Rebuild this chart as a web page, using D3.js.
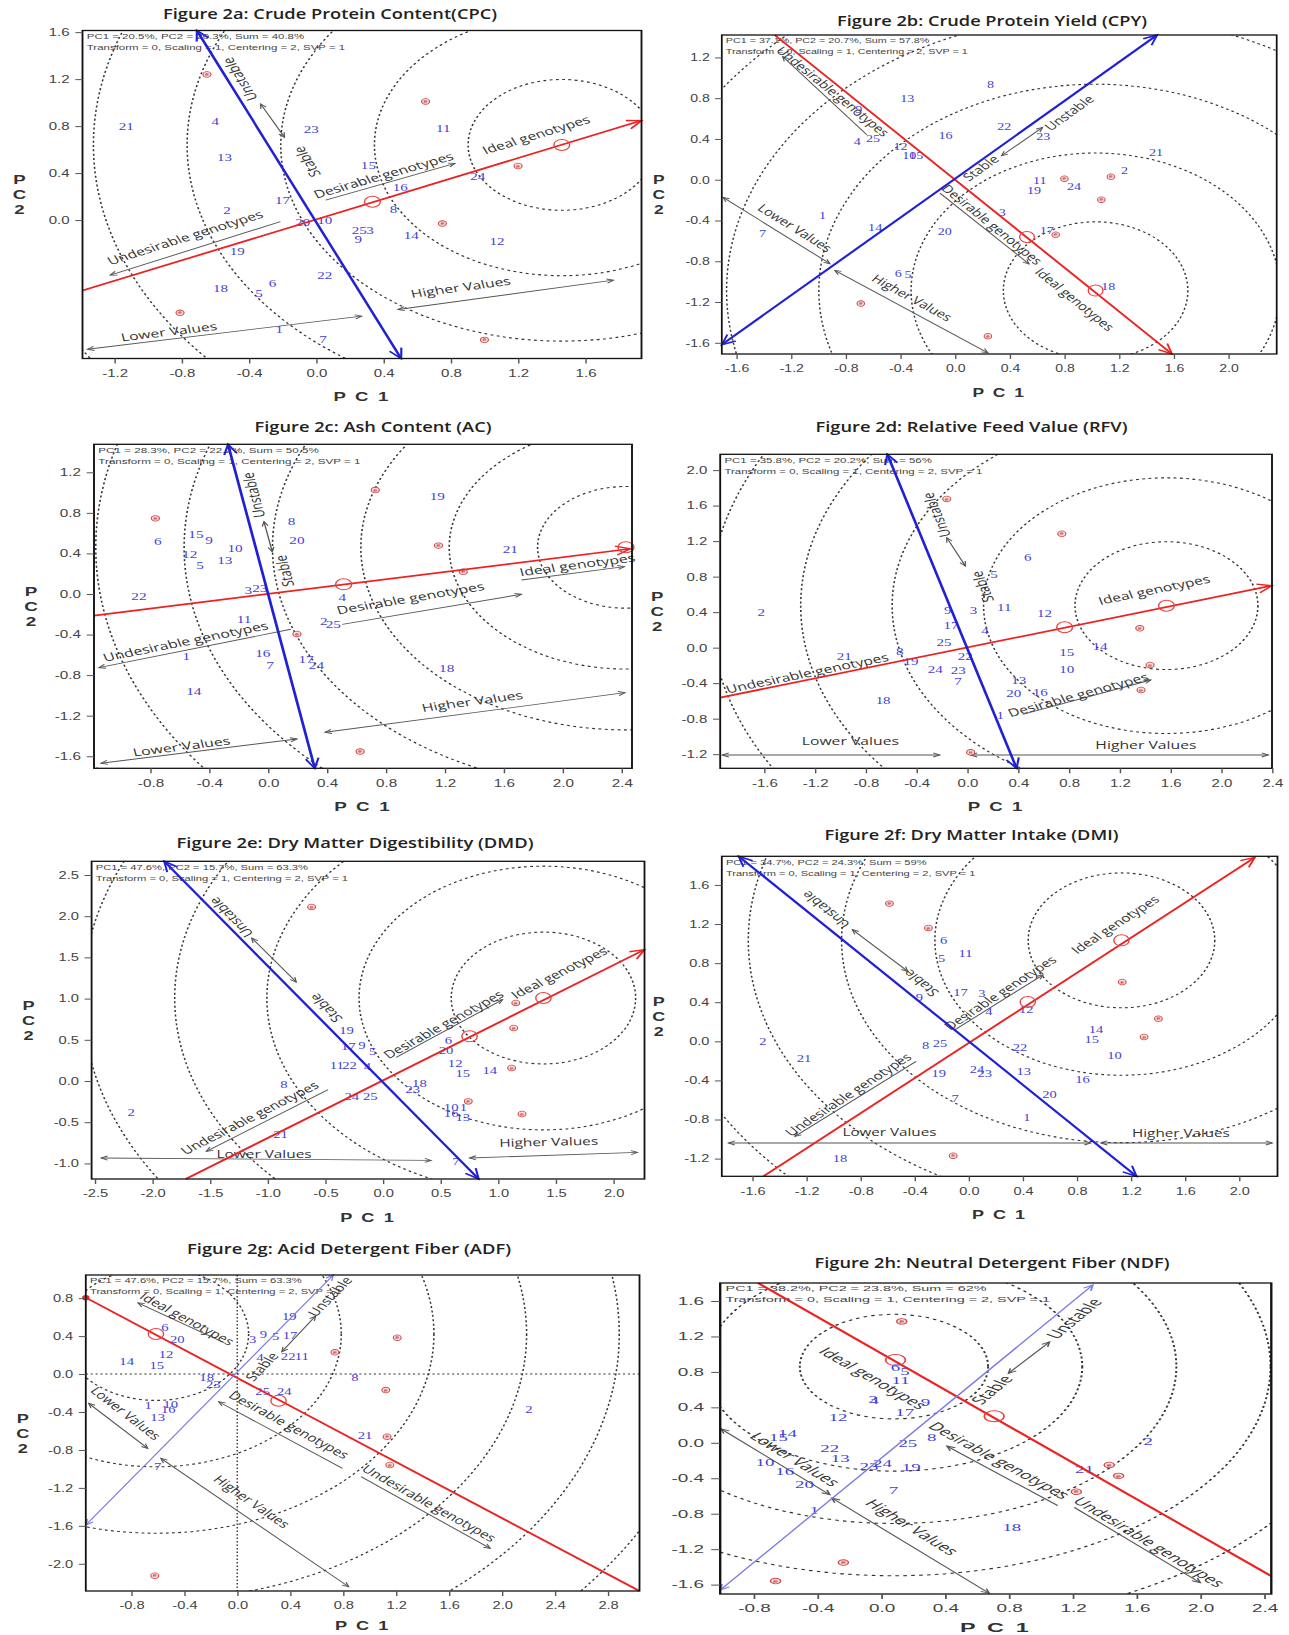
<!DOCTYPE html>
<meta charset="utf-8">
<style>
  body { margin: 0; background: #fff; }
  .title { font-family: "Open Sans", sans-serif; font-weight: 600; font-size: 13.5px; fill: #222; }
  .axlab { font-family: "Liberation Sans", Arial, sans-serif; font-weight: bold; font-size: 13px; fill: #333; }
  .stats { font-family: "Liberation Sans", Arial, sans-serif; font-size: 8px; fill: #444; }
  .geno { font-family: "Liberation Serif", "Times New Roman", serif; font-size: 10.5px; fill: #4242d6; }
  .note { font-family: "Open Sans", sans-serif; font-size: 11px; fill: #333; }
  .env { font-family: "Liberation Sans", Arial, sans-serif; font-size: 5px; fill: #c03030; }
</style>

<script src="https://d3js.org/d3.v7.min.js"></script>

<div id="chart"></div>

<script>
  // ---- panel texts ----
  var titles = [
    "Figure 2a: Crude Protein Content(CPC)",
    "Figure 2b: Crude Protein Yield (CPY)",
    "Figure 2c: Ash Content (AC)",
    "Figure 2d: Relative Feed Value (RFV)",
    "Figure 2e: Dry Matter Digestibility (DMD)",
    "Figure 2f: Dry Matter Intake (DMI)",
    "Figure 2g: Acid Detergent Fiber (ADF)",
    "Figure 2h: Neutral Detergent Fiber (NDF)"
  ];
  var statsText = [
    "PC1 = 20.5%, PC2 = 20.3%, Sum = 40.8%",
    "PC1 = 37.1%, PC2 = 20.7%, Sum = 57.8%",
    "PC1 = 28.3%, PC2 = 22.2%, Sum = 50.5%",
    "PC1 = 35.8%, PC2 = 20.2%, Sum = 56%",
    "PC1 = 47.6%, PC2 = 15.7%, Sum = 63.3%",
    "PC1 = 34.7%, PC2 = 24.3%, Sum = 59%",
    "PC1 = 47.6%, PC2 = 15.7%, Sum = 63.3%",
    "PC1 = 38.2%, PC2 = 23.8%, Sum = 62%"
  ];
  var statsText2 = "Transform = 0, Scaling = 1, Centering = 2, SVP = 1";

  // ---- axis ranges and ticks ----
  var xDomains = [[-1.39, 1.934], [-1.707, 2.353], [-1.182, 2.471], [-1.946, 2.399],
                  [-2.528, 2.27], [-1.826, 2.284], [-1.144, 3.039], [-1.009, 2.445]];
  var yDomains = [[-1.179, 1.614], [-1.71, 1.42], [-1.719, 1.476], [-1.359, 2.178],
                  [-1.189, 2.666], [-1.381, 1.893], [-2.287, 1.044], [-1.706, 1.803]];
  var xTickVals = [
    [-1.2, -0.8, -0.4, 0, 0.4, 0.8, 1.2, 1.6],
    [-1.6, -1.2, -0.8, -0.4, 0, 0.4, 0.8, 1.2, 1.6, 2.0],
    [-0.8, -0.4, 0, 0.4, 0.8, 1.2, 1.6, 2.0, 2.4],
    [-1.6, -1.2, -0.8, -0.4, 0, 0.4, 0.8, 1.2, 1.6, 2.0, 2.4],
    [-2.5, -2.0, -1.5, -1.0, -0.5, 0, 0.5, 1.0, 1.5, 2.0],
    [-1.6, -1.2, -0.8, -0.4, 0, 0.4, 0.8, 1.2, 1.6, 2.0],
    [-0.8, -0.4, 0, 0.4, 0.8, 1.2, 1.6, 2.0, 2.4, 2.8],
    [-0.8, -0.4, 0, 0.4, 0.8, 1.2, 1.6, 2.0, 2.4]
  ];
  var yTickVals = [
    [0, 0.4, 0.8, 1.2, 1.6],
    [-1.6, -1.2, -0.8, -0.4, 0, 0.4, 0.8, 1.2],
    [-1.6, -1.2, -0.8, -0.4, 0, 0.4, 0.8, 1.2],
    [-1.2, -0.8, -0.4, 0, 0.4, 0.8, 1.2, 1.6, 2.0],
    [-1.0, -0.5, 0, 0.5, 1.0, 1.5, 2.0, 2.5],
    [-1.2, -0.8, -0.4, 0, 0.4, 0.8, 1.2, 1.6],
    [-2.0, -1.6, -1.2, -0.8, -0.4, 0, 0.4, 0.8],
    [-1.6, -1.2, -0.8, -0.4, 0, 0.4, 0.8, 1.2, 1.6]
  ];

  // ---- biplot axes: average environment axis (red) and its perpendicular (blue) ----
  var redAxes = [
    [[-1.39, -0.60], [1.934, 0.847]], [[-1.32, 1.42], [1.587, -1.71]],
    [[-1.182, -0.214], [2.46, 0.446]], [[-1.946, -0.563], [2.399, 0.698]],
    [[-1.711, -1.189], [2.27, 1.594]], [[-1.519, -1.381], [2.117, 1.883]],
    [[-1.144, 0.805], [3.039, -2.287]], [[-0.772, 1.803], [2.445, -1.504]]
  ];
  var blueAxes = [
    [[-0.71, 1.614], [0.505, -1.18]], [[1.478, 1.42], [-1.707, -1.618]],
    [[-0.272, 1.476], [0.317, -1.719]], [[-0.63, 2.178], [0.388, -1.359]],
    [[-1.898, 2.666], [0.831, -1.189]], [[-1.701, 1.893], [1.242, -1.381]],
    [[-1.144, -1.592], [0.726, 1.044]], [[-1.009, -1.661], [1.326, 1.78]]
  ];
  var avgEnv = [[0.334, 0.156], [0.526, -0.562], [0.513, 0.095], [0.766, 0.229],
                [0.752, 0.542], [0.437, 0.402], [0.312, -0.281], [0.708, 0.299]];
  var idealPts = [[1.46, 0.64], [1.028, -1.088], [2.43, 0.46], [1.568, 0.473],
                  [1.393, 1.007], [1.13, 1.033], [-0.614, 0.422], [0.09, 0.933]];
  // concentric rings: centre x, centre y, radius step, count
  var rings = [[1.46, 0.64, 0.557, 6], [1.028, -1.088, 0.675, 6], [2.43, 0.46, 0.6, 7], [1.568, 0.473, 0.72, 6],
               [1.393, 1.007, 0.8, 6], [1.13, 1.033, 0.69, 6], [-0.614, 0.422, 0.7, 7], [0.08, 0.86, 0.59, 8]];

  // ---- genotype scores [label, PC1, PC2] ----
  var cpcGeno = [["21",-1.13,0.80],["4",-0.60,0.84],["13",-0.545,0.53],["2",-0.53,0.08],["17",-0.20,0.17],
    ["19",-0.47,-0.27],["18",-0.57,-0.585],["6",-0.26,-0.54],["5",-0.34,-0.625],["1",-0.22,-0.93],["7",0.04,-1.02],
    ["22",0.05,-0.47],["23",-0.03,0.77],["20",-0.08,-0.02],["10",0.05,0.0],["15",0.31,0.47],["16",0.50,0.28],
    ["8",0.46,0.09],["25",0.255,-0.085],["3",0.32,-0.09],["9",0.25,-0.16],["14",0.565,-0.13],["11",0.755,0.78],
    ["24",0.96,0.37],["12",1.075,-0.185]];
  var cpyGeno = [["8",0.26,0.94],["13",-0.35,0.80],["9",-0.705,0.686],["22",0.36,0.52],["16",-0.07,0.44],
    ["23",0.645,0.43],["4",-0.715,0.375],["25",-0.60,0.41],["12",-0.40,0.33],["10",-0.335,0.235],["15",-0.285,0.235],
    ["21",1.47,0.27],["2",1.24,0.09],["11",0.62,-0.01],["24",0.87,-0.065],["19",0.577,-0.105],["3",0.345,-0.32],
    ["17",0.67,-0.50],["1",-0.97,-0.35],["7",-1.41,-0.53],["14",-0.585,-0.47],["20",-0.075,-0.505],["6",-0.415,-0.915],
    ["5",-0.345,-0.93],["18",1.12,-1.045]];
  var acGeno = [["19",1.149,0.96],["8",0.16,0.713],["20",0.196,0.526],["15",-0.49,0.59],["9",-0.40,0.53],
    ["6",-0.748,0.516],["10",-0.224,0.45],["12",-0.532,0.39],["5",-0.462,0.286],["13",-0.294,0.329],["21",1.645,0.444],
    ["3",-0.134,0.04],["23",-0.056,0.056],["22",-0.877,-0.026],["4",0.504,-0.036],["11",-0.163,-0.246],["2",0.378,-0.273],
    ["25",0.443,-0.296],["1",-0.555,-0.618],["16",-0.036,-0.59],["7",0.014,-0.70],["17",0.258,-0.644],["24",0.328,-0.707],
    ["18",1.213,-0.733],["14",-0.504,-0.963]];
  var rfvGeno = [["2",-1.623,0.394],["6",0.475,1.014],["5",0.21,0.826],["9",-0.155,0.424],["3",0.048,0.424],
    ["11",0.291,0.454],["12",0.608,0.387],["17",-0.129,0.255],["4",0.139,0.199],["25",-0.184,0.06],["15",0.782,-0.053],
    ["14",1.044,0.019],["21",-0.97,-0.10],["8",-0.533,-0.038],["19",-0.443,-0.158],["22",-0.016,-0.10],["24",-0.252,-0.244],
    ["23",-0.071,-0.252],["10",0.782,-0.24],["7",-0.074,-0.383],["13",0.404,-0.372],["20",0.365,-0.514],["16",0.575,-0.503],
    ["18",-0.663,-0.59],["1",0.259,-0.766]];
  var dmdGeno = [["19",-0.315,0.615],["17",-0.30,0.416],["9",-0.183,0.437],["5",-0.088,0.355],["11",-0.40,0.19],
    ["22",-0.29,0.19],["4",-0.135,0.173],["8",-0.859,-0.045],["2",-2.184,-0.376],["24",-0.27,-0.182],["25",-0.11,-0.182],
    ["21",-0.888,-0.651],["6",0.568,0.497],["20",0.548,0.368],["12",0.627,0.215],["15",0.693,0.093],["14",0.927,0.125],
    ["23",0.26,-0.10],["18",0.317,-0.028],["10",0.592,-0.32],["1",0.699,-0.32],["16",0.592,-0.393],["13",0.693,-0.44],
    ["7",0.634,-0.975]];
  var dmiGeno = [["6",-0.185,1.03],["11",-0.024,0.897],["5",-0.2,0.853],["17",-0.061,0.501],["3",0.097,0.488],
    ["9",-0.365,0.45],["4",0.149,0.307],["12",0.425,0.324],["14",0.942,0.126],["15",0.911,0.024],["2",-1.522,0.0],
    ["8",-0.319,-0.041],["25",-0.213,-0.017],["22",0.38,-0.058],["10",1.078,-0.147],["21",-1.218,-0.171],["19",-0.222,-0.324],
    ["24",0.061,-0.283],["23",0.118,-0.331],["13",0.407,-0.307],["16",0.841,-0.392],["7",-0.10,-0.58],["20",0.598,-0.539],
    ["1",0.431,-0.774],["18",-0.951,-1.20]];
  var adfGeno = [["19",0.393,0.605],["6",-0.546,0.489],["20",-0.453,0.367],["9",0.197,0.422],["3",0.117,0.366],
    ["5",0.29,0.394],["17",0.399,0.411],["12",-0.538,0.206],["4",0.172,0.173],["22",0.385,0.19],["11",0.487,0.19],
    ["14",-0.835,0.135],["15",-0.608,0.093],["18",-0.231,-0.038],["23",-0.181,-0.105],["8",0.889,-0.038],["25",0.192,-0.179],
    ["24",0.355,-0.179],["1",-0.672,-0.327],["10",-0.503,-0.315],["16",-0.521,-0.375],["13",-0.601,-0.456],["2",2.204,-0.369],
    ["21",0.966,-0.65],["7",-0.601,-0.97]];
  var ndfGeno = [["6",0.09,0.847],["5",0.149,0.803],["11",0.121,0.709],["3",-0.051,0.496],["4",-0.044,0.474],
    ["9",0.278,0.459],["17",0.147,0.343],["12",-0.27,0.291],["14",-0.587,0.112],["15",-0.644,0.067],["8",0.317,0.067],
    ["25",0.167,-0.011],["2",1.673,0.011],["22",-0.322,-0.063],["13",-0.257,-0.175],["10",-0.728,-0.216],["23",-0.077,-0.261],
    ["24",0.008,-0.231],["19",0.188,-0.28],["16",-0.605,-0.317],["21",1.274,-0.299],["20",-0.481,-0.467],["7",0.077,-0.534],
    ["1",-0.42,-0.758],["18",0.819,-0.959]];
  var genotypes = [cpcGeno, cpyGeno, acGeno, rfvGeno, dmdGeno, dmiGeno, adfGeno, ndfGeno];

  // ---- environment scores [PC1, PC2] ----
  var environments = [
    [[-0.65,1.24],[0.65,1.01],[1.20,0.46],[0.75,-0.03],[-0.81,-0.79],[1.00,-1.02]],
    [[0.80,0.01],[1.14,0.03],[1.07,-0.196],[0.736,-0.54],[-0.69,-1.215],[0.24,-1.535]],
    [[-0.765,0.746],[0.728,1.025],[1.157,0.477],[1.325,0.22],[0.196,-0.394],[0.625,-1.554]],
    [[-0.162,1.675],[0.744,1.284],[1.358,0.218],[1.439,-0.195],[1.368,-0.477],[0.026,-1.179]],
    [[-0.619,2.112],[1.153,0.947],[1.135,0.643],[1.117,0.158],[0.741,-0.247],[1.207,-0.40]],
    [[-0.586,1.409],[-0.298,1.16],[1.136,0.607],[1.403,0.232],[1.297,0.044],[-0.115,-1.17]],
    [[1.209,0.383],[0.738,0.229],[1.122,-0.169],[1.132,-0.661],[1.153,-0.959],[-0.623,-2.126]],
    [[0.129,1.37],[1.429,-0.25],[1.488,-0.373],[1.223,-0.552],[-0.237,-1.351],[-0.662,-1.56]]
  ];

  // ---- annotation texts [text, PC1, PC2, direction] and arrows [x1, y1, x2, y2, heads] ----
  var noteTexts = [
    [["Unstable",-0.454,1.20,"up"],["Stable",-0.054,0.497,"up"],["Desirable genotypes",0.40,0.38,[0.769,0.313]],
     ["Undesirable  genotypes",-0.78,-0.15,[1.012,0.455]],["Ideal genotypes",1.308,0.725,"red"],
     ["Higher Values",0.859,-0.574,[1.281,0.25]],["Lower Values",-0.876,-0.952,[1.63,0.282]]],
    [["Undesirable genotypes",-0.895,0.866,"red"],["Unstable",0.835,0.654,"up"],["Stable",0.189,0.114,"up"],
     ["Desirable genotypes",0.27,-0.441,"red"],["Ideal genotypes",0.875,-1.176,"red"],
     ["Lower Values",-1.172,-0.474,[0.782,-0.651]],["Higher Values",-0.316,-1.16,[1.12,-0.81]]],
    [["Unstable",-0.098,0.976,"up"],["Stable",0.112,0.227,"up"],["Ideal genotypes",2.10,0.286,[0.7,0.132]],
     ["Desirable genotypes",0.967,-0.043,[1.216,0.297]],["Undesirable genotypes",-0.56,-0.47,[1.303,0.378]],
     ["Higher Values",1.387,-1.061,[2.037,0.391]],["Lower Values",-0.588,-1.505,[1.331,0.239]]],
    [["Unstable",-0.242,1.495,"up"],["Stable",0.12,0.687,"up"],["Ideal genotypes",1.471,0.65,"red"],
     ["Desirable genotypes",0.873,-0.533,[1.009,0.387]],["Undesirable genotypes",-1.261,-0.289,"red"],
     ["Lower Values",-0.921,-1.051,[1,0]],["Higher Values",1.406,-1.096,[1,0]]],
    [["Unstable",-1.318,1.986,"up"],["Stable",-0.494,0.886,"up"],["Desirable genotypes",0.526,0.684,[0.923,0.70]],
     ["Ideal genotypes",1.529,1.311,"red"],["Undesirable genotypes",-1.156,-0.449,[1.056,0.749]],
     ["Lower Values",-1.031,-0.886,[1,0]],["Higher Values",1.439,-0.74,[1,0.03]]],
    [["Unstable",-1.057,1.347,"up"],["Stable",-0.352,0.597,"up"],["Desirable genotypes",0.234,0.495,"red"],
     ["Ideal genotypes",1.084,1.194,"red"],["Undesirable genotypes",-0.89,-0.546,"red"],
     ["Lower Values",-0.586,-0.931,[1,0]],["Higher Values",1.57,-0.938,[1,0]]],
    [["Unstable",0.701,0.815,"up"],["Stable",0.187,0.077,"up"],["Ideal genotypes",-0.38,0.58,"red"],
     ["Lower Values",-0.842,-0.415,[0.446,-0.475]],["Higher Values",0.109,-1.346,[1.419,-1.353]],
     ["Desirable genotypes",0.39,-0.538,[0.935,-0.702]],["Undesirable genotypes",1.449,-1.363,[0.976,-0.756]]],
    [["Unstable",1.21,1.40,"up"],["Stable",0.695,0.597,"up"],["Ideal genotypes",-0.051,0.728,"red"],
     ["Desirable genotypes",0.74,-0.20,[0.695,-0.672]],["Undesirable genotypes",1.68,-1.12,[0.79,-0.851]],
     ["Lower Values",-0.54,-0.187,[0.682,-0.743]],["Higher Values",0.193,-0.952,[0.986,-1.075]]]
  ];
  var noteArrows = [
    [[-0.331,0.989,-0.189,0.705,"both"],[0.056,0.17,0.825,0.483,"end"],[-0.213,-0.014,-1.225,-0.469,"end"],
     [0.486,-0.762,1.767,-0.512,"both"],[-1.36,-1.10,0.27,-0.818,"both"]],
    [[-0.646,0.441,-1.262,1.209,"end"],[0.64,0.513,0.34,0.235,"both"],[-0.111,-0.131,0.541,-0.827,"end"],
     [-1.698,-0.173,-0.916,-0.824,"both"],[-0.88,-0.889,0.24,-1.699,"both"]],
    [[-0.028,0.713,0.028,0.417,"both"],[1.72,0.138,2.42,0.27,"end"],[0.504,-0.30,1.72,-0.003,"end"],
     [0.154,-0.348,-1.149,-0.726,"end"],[0.387,-1.364,2.424,-0.973,"both"],[-1.135,-1.669,0.196,-1.43,"both"]],
    [[-0.162,1.239,-0.016,0.92,"both"],[0.436,-0.751,1.445,-0.364,"end"],
     [-1.93,-1.209,-0.217,-1.209,"both"],[0.026,-1.209,2.37,-1.209,"both"]],
    [[-1.139,1.735,-0.752,1.201,"both"],[0.115,0.287,1.038,0.987,"end"],[-0.476,-0.105,-1.532,-0.854,"end"],
     [-2.445,-0.934,0.419,-0.963,"both"],[0.752,-0.934,2.209,-0.866,"both"]],
    [[-0.86,1.143,-0.45,0.716,"both"],[-0.10,0.12,0.55,0.68,"end"],[-0.389,-0.205,-1.285,-0.972,"end"],
     [-1.777,-1.04,0.902,-1.04,"both"],[0.978,-1.04,2.245,-1.04,"both"]],
    [[0.592,0.611,0.337,0.235,"both"],[-0.10,0.33,-0.75,0.75,"end"],[-1.122,-0.309,-0.676,-0.784,"both"],
     [-0.577,-0.889,0.842,-2.242,"both"],[-0.14,-0.292,0.795,-0.994,"start"],[0.935,-1.082,1.911,-1.838,"end"]],
    [[1.055,1.138,0.798,0.784,"both"],[0.412,-0.037,1.107,-0.709,"start"],[1.21,-0.728,2.0,-1.579,"end"],
     [-1.004,0.157,-0.322,-0.586,"both"],[-0.309,-0.623,0.677,-1.698,"both"]]
  ];

  // ---- page layout (pixels) ----
  var boxes = [[82.5,30.5,641.5,358.5],[721.8,35,1276.7,354],[94,444.3,632,768.3],[720.2,454.3,1272,768.3],
               [91.6,861.3,644.5,1179],[721.8,856.3,1277.5,1176.3],[85.8,1275,639.5,1591],[720.2,1283,1271.3,1594]];
  var titlePos = [[330,18.5,334],[992,26,310],[373,432,237],[971.5,432,312],
                  [355,848,357],[971.5,840,294],[349,1254,324],[992,1268,355]];
  var pc1Gap = [43, 43, 43, 43, 43, 43, 39, 38];

  var W = 1289, H = 1635;
  var svg = d3.select("#chart").append("svg").attr("width", W).attr("height", H);
  var f1 = function(d) { return d.toFixed(1); };

  function arrowHead(sel, p, q, size, color, width) {
    var a = Math.atan2(q[1] - p[1], q[0] - p[0]), s = 0.42;
    var d = "M" + (q[0] - size * Math.cos(a - s)) + "," + (q[1] - size * Math.sin(a - s)) +
            "L" + q[0] + "," + q[1] +
            "L" + (q[0] - size * Math.cos(a + s)) + "," + (q[1] - size * Math.sin(a + s));
    sel.append("path").attr("d", d).attr("fill", "none").attr("stroke", color).attr("stroke-width", width);
  }

  function drawPanel(i) {
    var b = boxes[i], xd = xDomains[i], yd = yDomains[i];
    var kx = (b[2] - b[0]) / (xd[1] - xd[0]);
    var ky = (b[3] - b[1]) / (yd[1] - yd[0]);
    var sx = kx / ky, iw = (b[2] - b[0]) / sx;   // picture was stretched sideways
    var x = d3.scaleLinear().domain(xd).range([0, iw]);
    var y = d3.scaleLinear().domain(yd).range([b[3], b[1]]);
    var P = function(p) { return [x(p[0]), y(p[1])]; };
    var thin = i >= 6;

    // title (not stretched)
    var tp = titlePos[i];
    svg.append("text").attr("class", "title").attr("x", tp[0]).attr("y", tp[1])
      .attr("text-anchor", "middle").attr("textLength", tp[2]).attr("lengthAdjust", "spacingAndGlyphs")
      .text(titles[i]);

    var g = svg.append("g").attr("transform", "translate(" + b[0] + ",0) scale(" + sx + ",1)");
    g.append("clipPath").attr("id", "clip" + i).append("rect")
      .attr("x", 0).attr("y", b[1]).attr("width", iw).attr("height", b[3] - b[1]);
    var inner = g.append("g").attr("clip-path", "url(#clip" + i + ")");

    // concentric rings around the ideal genotype
    var rg = rings[i];
    inner.selectAll("circle.ring").data(d3.range(1, rg[3] + 1)).join("circle")
      .attr("class", "ring")
      .attr("cx", x(rg[0])).attr("cy", y(rg[1]))
      .attr("r", function(k) { return k * rg[2] * ky; })
      .attr("fill", "none").attr("stroke", "#333").attr("stroke-width", 1.1)
      .attr("stroke-dasharray", "2,2.4");

    if (i === 6) {
      inner.append("line").attr("x1", x(0)).attr("x2", x(0)).attr("y1", b[1]).attr("y2", b[3])
        .attr("stroke", "#333").attr("stroke-width", 1).attr("stroke-dasharray", "1.5,2");
      inner.append("line").attr("x1", 0).attr("x2", iw).attr("y1", y(0)).attr("y2", y(0))
        .attr("stroke", "#333").attr("stroke-width", 1).attr("stroke-dasharray", "1.5,2");
    }

    // stats lines
    g.append("text").attr("class", "stats").attr("x", 3).attr("y", b[1] + 8.5).text(statsText[i]);
    g.append("text").attr("class", "stats").attr("x", 3).attr("y", b[1] + 19.5).text(statsText2);

    var red = redAxes[i], blue = blueAxes[i];
    var up = blue[0][1] > blue[1][1] ? [blue[0][0] - blue[1][0], blue[0][1] - blue[1][1]]
                                     : [blue[1][0] - blue[0][0], blue[1][1] - blue[0][1]];
    var redDir = [red[1][0] - red[0][0], red[1][1] - red[0][1]];

    // annotation arrows
    noteArrows[i].forEach(function(a) {
      var p = P([a[0], a[1]]), q = P([a[2], a[3]]);
      g.append("line").attr("x1", p[0]).attr("y1", p[1]).attr("x2", q[0]).attr("y2", q[1])
        .attr("stroke", "#555").attr("stroke-width", 0.9);
      if (a[4] === "end" || a[4] === "both") arrowHead(g, p, q, 5, "#555", 0.9);
      if (a[4] === "start" || a[4] === "both") arrowHead(g, q, p, 5, "#555", 0.9);
    });

    // annotation texts
    noteTexts[i].forEach(function(n) {
      var d = n[3] === "up" ? up : n[3] === "red" ? redDir : n[3];
      var ang = -Math.atan2(d[1], d[0]) * 180 / Math.PI;
      g.append("text").attr("class", "note")
        .attr("transform", "translate(" + x(n[1]) + "," + y(n[2]) + ") rotate(" + ang + ")")
        .attr("text-anchor", "middle").attr("dy", "0.35em")
        .text(n[0]);
    });

    // genotypes
    g.selectAll("text.geno").data(genotypes[i]).join("text")
      .attr("class", "geno")
      .attr("x", function(d) { return x(d[1]); })
      .attr("y", function(d) { return y(d[2]); })
      .attr("dy", "0.35em").attr("text-anchor", "middle")
      .text(function(d) { return d[0]; });

    // environments
    var env = g.selectAll("g.envpt").data(environments[i]).join("g")
      .attr("class", "envpt")
      .attr("transform", function(d) { return "translate(" + x(d[0]) + "," + y(d[1]) + ")"; });
    env.append("circle").attr("r", 2.8).attr("fill", "#f6dcdc").attr("stroke", "#d24848").attr("stroke-width", 0.8);
    env.append("text").attr("class", "env").attr("text-anchor", "middle").attr("dy", "0.33em").text("e");

    // red average-environment axis
    var r0 = P(red[0]), r1 = P(red[1]);
    g.append("line").attr("x1", r0[0]).attr("y1", r0[1]).attr("x2", r1[0]).attr("y2", r1[1])
      .attr("stroke", "#ec2222").attr("stroke-width", 1.7);
    if (i < 6) arrowHead(g, r0, r1, 11, "#ec2222", 1.4);
    if (i === 6) g.append("circle").attr("cx", r0[0]).attr("cy", r0[1]).attr("r", 2.6).attr("fill", "#ec2222");

    // blue perpendicular axis
    var b0 = P(blue[0]), b1 = P(blue[1]);
    var bc = thin ? "#7b7be6" : "#2020d4", bw = thin ? 1 : 1.9;
    g.append("line").attr("x1", b0[0]).attr("y1", b0[1]).attr("x2", b1[0]).attr("y2", b1[1])
      .attr("stroke", bc).attr("stroke-width", bw);
    arrowHead(g, b0, b1, thin ? 6 : 11, bc, thin ? 1 : 1.5);
    arrowHead(g, b1, b0, thin ? 6 : 11, bc, thin ? 1 : 1.5);

    // average environment and ideal genotype markers
    [avgEnv[i], idealPts[i]].forEach(function(m) {
      g.append("circle").attr("cx", x(m[0])).attr("cy", y(m[1])).attr("r", 5.5)
        .attr("fill", "none").attr("stroke", "#e84040").attr("stroke-width", 1);
    });

    // frame
    g.append("rect").attr("x", 0).attr("y", b[1]).attr("width", iw).attr("height", b[3] - b[1])
      .attr("fill", "none").attr("stroke", "#111").attr("stroke-width", 1.3);

    var ax = g.append("g").attr("transform", "translate(0," + b[3] + ")")
      .call(d3.axisBottom(x).tickValues(xTickVals[i]).tickFormat(f1).tickSize(5).tickPadding(6));
    var ay = g.append("g")
      .call(d3.axisLeft(y).tickValues(yTickVals[i]).tickFormat(f1).tickSize(5).tickPadding(4));
    [ax, ay].forEach(function(a) {
      a.attr("font-family", "'Liberation Sans', Arial, sans-serif").attr("font-size", 10.5);
      a.select(".domain").remove();
      a.selectAll("line").attr("stroke", "#555");
      a.selectAll("text").attr("fill", "#444");
    });

    // axis titles
    g.append("text").attr("class", "axlab").attr("x", iw / 2).attr("y", b[3] + pc1Gap[i])
      .attr("text-anchor", "middle").attr("letter-spacing", 1.5).text("P C 1");
    if (i !== 7) {
      var mid = (b[1] + b[3]) / 2, lx = -63 / sx;
      ["P", "C", "2"].forEach(function(ch, k) {
        g.append("text").attr("class", "axlab").attr("x", lx).attr("y", mid + (k - 1) * 15 + 5)
          .attr("text-anchor", "middle").text(ch);
      });
    }
  }

  for (var i = 0; i < 8; i++) drawPanel(i);
</script>
